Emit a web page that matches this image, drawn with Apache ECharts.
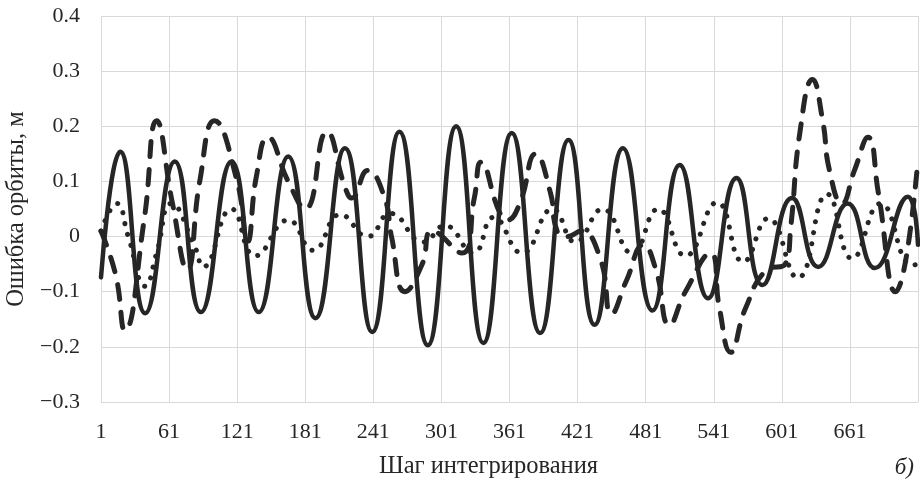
<!DOCTYPE html>
<html>
<head>
<meta charset="utf-8">
<script src="https://cdn.jsdelivr.net/npm/echarts@6/dist/echarts.min.js"></script>
<style>
  html, body { margin: 0; padding: 0; background: #fff; }
  #chart { width: 920px; height: 479px; }
</style>
</head>
<body>
<div id="chart"></div>
<script>
// integration steps 1..721 on the category axis
const steps = [];
for (let s = 1; s <= 721; s++) steps.push(String(s));

const yTicks = [-0.3, -0.2, -0.1, 0, 0.1, 0.2, 0.3, 0.4];

// solid curve, read at peaks / troughs
const solidSteps = [1, 18, 40, 66, 89, 116, 140, 166, 190, 216, 240, 264, 289, 314, 338, 363, 388, 413, 436, 461, 487, 511, 536, 561, 584, 610, 633, 659, 683, 712, 721];
const solidValues = [-0.074, 0.154, -0.139, 0.136, -0.137, 0.136, -0.137, 0.145, -0.148, 0.16, -0.173, 0.19, -0.197, 0.2, -0.193, 0.188, -0.175, 0.175, -0.16, 0.16, -0.134, 0.13, -0.112, 0.106, -0.088, 0.07, -0.055, 0.06, -0.057, 0.072, -0.015];

// dashed curve
const dashedSteps = [1, 14, 22, 39, 50, 64, 77, 88, 101, 121, 130, 138, 148, 166, 181, 200, 216, 222, 236, 251, 257, 269, 284, 293, 319, 330, 336, 352, 359, 370, 384, 397, 403, 412, 424, 441, 451, 464, 479, 490, 502, 516, 538, 546, 556, 569, 588, 604, 609, 617, 628, 637, 643, 654, 665, 677, 686, 701, 721];
const dashedValues = [0.01, -0.07, -0.17, 0.03, 0.21, 0.06, -0.06, 0.1, 0.21, 0.1, -0.01, 0.11, 0.18, 0.1, 0.05, 0.19, 0.09, 0.07, 0.12, 0.07, 0.0, -0.1, -0.05, 0.01, -0.03, 0.07, 0.135, 0.045, 0.03, 0.06, 0.15, 0.08, 0.01, 0.0, 0.01, -0.04, -0.14, -0.08, -0.015, -0.06, -0.16, -0.1, -0.03, -0.13, -0.21, -0.13, -0.06, -0.05, 0.02, 0.19, 0.285, 0.21, 0.12, 0.06, 0.12, 0.18, 0.08, -0.1, 0.14];

// dotted curve
const dottedSteps = [1, 15, 25, 40, 50, 63, 84, 91, 116, 137, 166, 188, 212, 236, 256, 285, 304, 329, 347, 372, 399, 419, 443, 469, 492, 516, 544, 567, 589, 615, 641, 663, 688, 716, 721];
const dottedValues = [0.01, 0.06, 0.0, -0.09, -0.03, 0.06, -0.02, -0.055, 0.05, -0.035, 0.03, -0.025, 0.04, 0.0, 0.042, -0.01, 0.02, -0.03, 0.035, -0.03, 0.05, -0.01, 0.05, -0.03, 0.05, -0.035, 0.062, -0.046, 0.033, -0.075, 0.077, -0.04, 0.06, -0.052, -0.05];

const pairs = (xs, ys) => xs.map((s, i) => [String(s), ys[i]]);

const ink = '#262626';
const font = 'Liberation Serif';

const chart = echarts.init(document.getElementById('chart'), null, { renderer: 'canvas' });
chart.setOption({
  animation: false,
  backgroundColor: '#fff',
  grid: { left: 101, right: 2, top: 16, bottom: 77, containLabel: false, outerBoundsMode: 'none' },
  title: {
    text: 'б)',
    right: 1, bottom: -5,
    textStyle: { fontFamily: font, fontStyle: 'italic', fontWeight: 'normal', fontSize: 23, color: ink }
  },
  xAxis: {
    type: 'category',
    data: steps,
    boundaryGap: false,
    name: 'Шаг интегрирования',
    nameLocation: 'middle',
    nameGap: 52,
    nameTextStyle: { fontFamily: font, fontSize: 24.5, color: ink, padding: [0, 42, 0, 0] },
    axisLine: { show: false },
    axisTick: { show: false },
    axisLabel: {
      interval: (i) => i % 60 === 0 && i < 720,
      margin: 19,
      fontFamily: font, fontSize: 22, color: ink
    },
    splitLine: {
      show: true,
      interval: (i) => i % 60 === 0,
      lineStyle: { color: '#d9d9d9', width: 1 }
    }
  },
  yAxis: {
    type: 'value',
    min: yTicks[0],
    max: yTicks[yTicks.length - 1],
    interval: 0.1,
    name: 'Ошибка орбиты, м',
    nameLocation: 'middle',
    nameGap: 71,
    nameTextStyle: { fontFamily: font, fontSize: 24.5, color: ink },
    axisLine: { show: false },
    axisTick: { show: false },
    axisLabel: {
      margin: 21,
      fontFamily: font, fontSize: 22, color: ink,
      formatter: (v) => {
        if (Math.abs(v) < 1e-9) return '0';
        const t = Math.abs(v).toFixed(1);
        return v < 0 ? '\u2212' + t : t;
      }
    },
    splitLine: { lineStyle: { color: '#d9d9d9', width: 1 } }
  },
  series: [
    {
      name: 'dotted', type: 'line', symbol: 'none', smooth: 0.5,
      data: pairs(dottedSteps, dottedValues),
      lineStyle: { color: ink, width: 5, type: [0.1, 11], cap: 'round' }
    },
    {
      name: 'dashed', type: 'line', symbol: 'none', smooth: 0.5,
      data: pairs(dashedSteps, dashedValues),
      lineStyle: { color: ink, width: 5, type: [15, 13], cap: 'round' }
    },
    {
      name: 'solid', type: 'line', symbol: 'none', smooth: 0.5,
      data: pairs(solidSteps, solidValues),
      lineStyle: { color: ink, width: 4.5, cap: 'round' }
    }
  ]
});
</script>
</body>
</html>
